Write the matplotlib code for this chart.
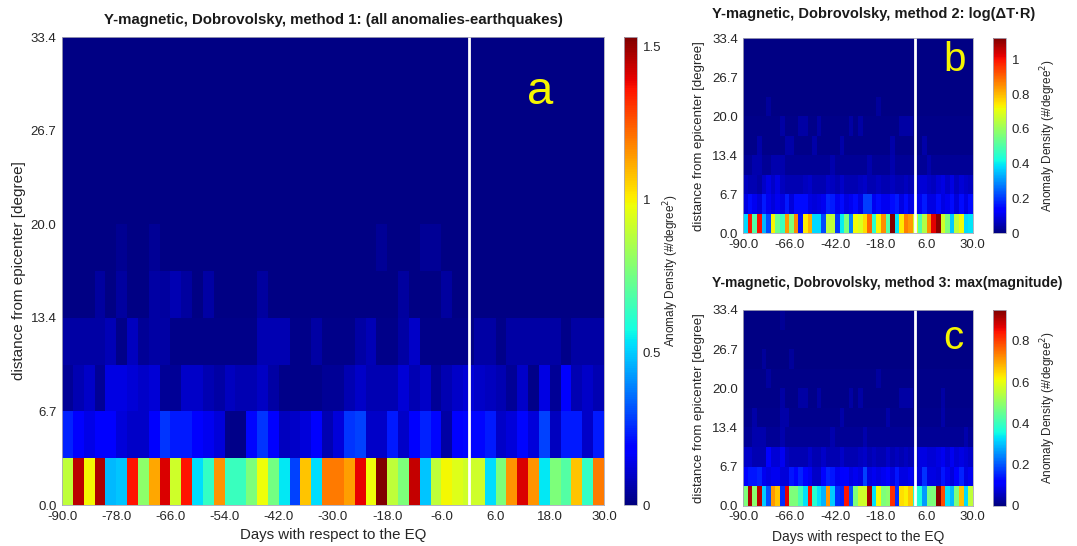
import numpy as np
import matplotlib
matplotlib.use("Agg")
import matplotlib.pyplot as plt

plt.rcParams['font.family'] = ['Liberation Sans', 'DejaVu Sans']

# ---------------- data ----------------
day_edges = np.linspace(-90, 30, 51)          # 50 bins of 2.4 days
dist_edges = np.linspace(0, 33.4, 11)         # 10 bins of 3.34 degree

x_ticks_a = [-90, -78, -66, -54, -42, -30, -18, -6, 6, 18, 30]
x_ticks_bc = [-90, -66, -42, -18, 6, 30]
y_ticks = [0, 6.68, 13.36, 20.04, 26.72, 33.4]
y_tick_labels = ["0.0", "6.7", "13.4", "20.0", "26.7", "33.4"]

# Panel a (method 1)
a_r0 = [0.89,1.45,0.99,1.47,0.47,0.49,1.36,0.80,1.12,1.41,0.92,1.36,0.52,0.63,1.15,0.64,0.64,0.77,0.98,0.75,0.54,0.29,1.07,0.52,1.19,
        1.19,1.13,1.39,0.98,1.53,0.89,0.77,1.44,0.49,0.89,0.99,0.95,0.92,0.92,0.52,0.77,1.15,1.41,1.15,0.54,0.77,0.69,1.07,0.63,1.19]
a_r1 = [0.245,0.18,0.14,0.18,0.18,0.12,0.10,0.10,0.18,0.27,0.23,0.23,0.18,0.15,0.12,0.015,0.015,0.20,0.27,0.18,0.085,0.10,0.12,0.18,0.07,
        0.12,0.27,0.29,0.10,0.10,0.23,0.10,0.18,0.245,0.20,0.05,0.18,0.20,0.20,0.23,0.10,0.12,0.20,0.12,0.29,0.085,0.23,0.23,0.10,0.23]
a_r2 = [0.034,0.067,0.10,0.034,0.135,0.135,0.118,0.10,0.118,0.034,0.034,0.10,0.10,0.067,0.05,0.084,0.067,0.067,0.092,0.05,0.017,0.017,0.017,0.017,0.03,
        0.034,0.067,0.10,0.067,0.067,0.067,0.118,0.067,0.10,0.034,0.067,0.10,0.118,0.10,0.084,0.067,0.034,0.10,0.017,0.135,0.034,0.17,0.067,0.10,0.067]
a_r3 = [0.05,0.05,0.05,0.05,0.077,0.017,0.084,0.034,0.05,0.05,0.017,0.017,0.017,0.017,0.017,0.017,0.017,0.017,0.067,0.067,0.067,0.017,0.017,0.05,0.017,
        0.017,0.017,0.05,0.077,0.017,0.017,0.05,0.10,0.017,0.017,0.017,0.017,0.017,0.05,0.05,0.017,0.05,0.05,0.05,0.05,0.05,0.017,0.05,0.05,0.05]
a_r4 = [0.01,0.01,0.01,0.043,0.01,0.043,0.01,0.01,0.05,0.046,0.067,0.046,0.01,0.05,0.01,0.01,0.01,0.01,0.046,0.01,0.01,0.01,0.01,0.01,0.01,
        0.01,0.01,0.01,0.01,0.01,0.01,0.043,0.01,0.01,0.01,0.043,0.01,0.01,0.01,0.01,0.01,0.01,0.01,0.01,0.01,0.01,0.01,0.01,0.01,0.01]
a_r5 = [0.008,0.008,0.008,0.008,0.008,0.027,0.008,0.008,0.034,0.008,0.008,0.008,0.008,0.008,0.008,0.008,0.008,0.008,0.008,0.008,0.008,0.008,0.008,0.008,0.008,
        0.008,0.008,0.008,0.008,0.034,0.008,0.008,0.008,0.034,0.034,0.008,0.008,0.008,0.008,0.008,0.008,0.008,0.008,0.008,0.008,0.008,0.008,0.008,0.008,0.008]
a_r6 = [0.008] * 50
a_r7 = [0.008] * 50
a_r8 = [0.008] * 50
a_r9 = [0.008] * 50

# Panel b (method 2)
b_r0 = [0.38,0.99,0.50,1.00,0.34,0.22,0.73,0.54,0.47,0.84,0.56,0.86,0.16,0.74,0.81,0.38,0.38,0.22,0.65,0.65,0.20,0.40,0.56,0.28,0.72,
        0.69,0.76,0.90,0.45,0.73,0.85,0.50,1.12,0.39,0.74,0.87,0.84,0.67,0.50,0.63,0.85,1.02,1.11,0.67,0.56,0.36,0.65,0.72,0.38,0.39]
b_r1 = [0.10,0.15,0.11,0.09,0.17,0.11,0.09,0.11,0.10,0.17,0.09,0.15,0.15,0.15,0.10,0.09,0.10,0.11,0.18,0.17,0.11,0.15,0.10,0.11,0.15,
        0.10,0.21,0.21,0.11,0.15,0.11,0.11,0.15,0.17,0.10,0.15,0.10,0.11,0.11,0.17,0.10,0.10,0.15,0.10,0.11,0.15,0.09,0.15,0.10,0.15]
b_r2 = [0.062,0.049,0.049,0.037,0.074,0.099,0.074,0.099,0.062,0.049,0.049,0.049,0.049,0.062,0.074,0.049,0.049,0.049,0.074,0.062,0.049,0.074,0.049,0.049,0.049,
        0.062,0.074,0.049,0.049,0.062,0.049,0.049,0.062,0.049,0.049,0.062,0.049,0.062,0.086,0.086,0.074,0.062,0.086,0.099,0.074,0.099,0.062,0.086,0.074,0.062]
b_r3 = [0.022,0.022,0.045,0.045,0.022,0.022,0.045,0.045,0.045,0.022,
        0.022,0.022,0.022,0.022,0.022,0.022,0.022,0.022,0.022,0.045,
        0.022,0.022,0.022,0.022,0.022,0.022,0.022,0.045,0.022,0.022,
        0.022,0.022,0.045,0.022,0.022,0.022,0.022,0.022,0.022,0.022,
        0.045,0.022,0.022,0.022,0.022,0.022,0.022,0.022,0.022,0.022]
b_r4 = [0.012,0.012,0.012,0.04,0.012,0.012,0.012,0.012,0.012,0.04,
        0.04,0.012,0.012,0.012,0.012,0.04,0.012,0.012,0.012,0.012,
        0.012,0.04,0.012,0.012,0.012,0.012,0.012,0.012,0.012,0.012,
        0.012,0.012,0.04,0.012,0.012,0.012,0.012,0.012,0.012,0.04,
        0.012,0.012,0.012,0.012,0.012,0.012,0.012,0.012,0.012,0.012]
b_r5 = [0.01,0.01,0.01,0.01,0.01,0.01,0.01,0.01,0.035,0.01,
        0.01,0.01,0.035,0.035,0.01,0.01,0.035,0.01,0.01,0.01,
        0.01,0.01,0.01,0.035,0.01,0.035,0.01,0.01,0.01,0.01,
        0.01,0.01,0.01,0.01,0.035,0.035,0.035,0.01,0.01,0.01,
        0.01,0.01,0.01,0.01,0.01,0.01,0.01,0.01,0.01,0.01]
b_r6 = [0.008,0.008,0.008,0.008,0.008,0.03,0.008,0.008,0.008,0.008,
        0.008,0.008,0.008,0.008,0.008,0.008,0.008,0.008,0.008,0.008,
        0.008,0.008,0.008,0.008,0.008,0.008,0.008,0.008,0.008,0.03,
        0.008,0.008,0.008,0.008,0.008,0.008,0.008,0.008,0.008,0.008,
        0.008,0.008,0.008,0.008,0.008,0.008,0.008,0.008,0.008,0.008]
b_r7 = [0.008] * 50
b_r8 = [0.008] * 50
b_r9 = [0.008] * 50

# Panel c (method 3)
c_r0 = [0.475,0.91,0.49,0.90,0.31,0.19,0.71,0.665,0.16,0.865,0.475,0.475,0.41,0.33,0.845,0.38,0.33,0.285,0.71,0.31,0.16,0.15,0.845,0.19,0.475,
        0.57,0.57,0.92,0.33,0.61,0.475,0.49,0.82,0.16,0.64,0.62,0.665,0.38,0.36,0.26,0.47,0.475,0.94,0.79,0.33,0.29,0.475,0.67,0.32,0.55]
c_r1 = [0.12,0.14,0.14,0.15,0.095,0.085,0.095,0.095,0.076,0.076,0.14,0.12,0.15,0.12,0.095,0.063,0.063,0.12,0.15,0.14,0.095,0.105,0.12,0.085,0.095,
        0.085,0.18,0.085,0.095,0.085,0.095,0.105,0.085,0.14,0.085,0.085,0.095,0.085,0.085,0.165,0.085,0.085,0.076,0.14,0.095,0.076,0.105,0.15,0.085,0.095]
c_r2 = [0.063,0.063,0.042,0.042,0.042,0.105,0.073,0.073,0.095,0.052,0.042,0.042,0.042,0.042,0.063,0.042,0.042,0.063,0.042,0.042,0.042,0.063,0.042,0.042,0.042,
        0.052,0.063,0.042,0.052,0.042,0.042,0.063,0.042,0.052,0.042,0.052,0.042,0.063,0.084,0.084,0.073,0.073,0.084,0.095,0.073,0.095,0.073,0.084,0.073,0.063]
c_r3 = [0.02,0.02,0.04,0.04,0.04,0.02,0.02,0.02,0.04,0.02,
        0.02,0.02,0.02,0.02,0.02,0.02,0.02,0.02,0.02,0.04,
        0.02,0.02,0.02,0.02,0.02,0.02,0.04,0.02,0.02,0.02,
        0.02,0.02,0.02,0.02,0.02,0.02,0.02,0.02,0.02,0.02,
        0.02,0.02,0.02,0.02,0.02,0.02,0.02,0.02,0.04,0.02]
c_r4 = [0.012,0.012,0.035,0.012,0.012,0.012,0.012,0.012,0.035,0.035,
        0.012,0.012,0.012,0.012,0.012,0.012,0.012,0.012,0.012,0.012,
        0.012,0.035,0.012,0.012,0.012,0.012,0.012,0.012,0.012,0.012,
        0.012,0.035,0.012,0.012,0.012,0.012,0.012,0.012,0.012,0.012,
        0.012,0.012,0.012,0.035,0.012,0.012,0.012,0.012,0.012,0.012]
c_r5 = [0.01,0.01,0.01,0.01,0.01,0.01,0.01,0.01,0.03,0.01,
        0.01,0.01,0.03,0.03,0.01,0.01,0.03,0.01,0.01,0.01,
        0.01,0.01,0.01,0.03,0.01,0.03,0.01,0.01,0.01,0.01,
        0.01,0.01,0.01,0.01,0.03,0.03,0.03,0.01,0.01,0.01,
        0.01,0.01,0.01,0.03,0.01,0.01,0.01,0.01,0.01,0.01]
c_r6 = [0.008,0.008,0.008,0.008,0.008,0.028,0.008,0.008,0.008,0.008,
        0.008,0.008,0.008,0.008,0.008,0.008,0.008,0.008,0.008,0.008,
        0.008,0.008,0.008,0.008,0.008,0.008,0.008,0.008,0.008,0.028,
        0.008,0.008,0.008,0.008,0.008,0.008,0.008,0.008,0.008,0.008,
        0.008,0.008,0.008,0.008,0.008,0.008,0.008,0.008,0.008,0.008]
c_r7 = [0.007,0.007,0.007,0.007,0.025,0.007,0.007,0.007,0.007,0.007,
        0.025,0.007,0.007,0.007,0.007,0.007,0.007,0.007,0.007,0.007,
        0.007,0.007,0.007,0.007,0.007,0.007,0.007,0.007,0.007,0.007,
        0.007,0.007,0.007,0.007,0.007,0.007,0.007,0.007,0.007,0.007,
        0.007,0.007,0.007,0.007,0.007,0.007,0.007,0.007,0.007,0.007]
c_r8 = [0.007] * 50
c_r9 = [0.007,0.007,0.007,0.007,0.007,0.007,0.007,0.007,0.022,0.007,
        0.007,0.007,0.007,0.007,0.007,0.007,0.007,0.007,0.007,0.007,
        0.007,0.007,0.007,0.007,0.007,0.007,0.007,0.007,0.007,0.007,
        0.007,0.007,0.007,0.007,0.007,0.007,0.007,0.007,0.007,0.007,
        0.007,0.007,0.007,0.007,0.007,0.007,0.007,0.007,0.007,0.007]

vmax_a, vmax_b, vmax_c = 1.53, 1.12, 0.95
cb_ticks_a = [0, 0.5, 1, 1.5]
cb_labels_a = ["0", "0.5", "1", "1.5"]
cb_ticks_b = [0, 0.2, 0.4, 0.6, 0.8, 1.0]
cb_labels_b = ["0", "0.2", "0.4", "0.6", "0.8", "1"]
cb_ticks_c = [0, 0.2, 0.4, 0.6, 0.8]
cb_labels_c = ["0", "0.2", "0.4", "0.6", "0.8"]

title_a = "Y-magnetic, Dobrovolsky, method 1: (all anomalies-earthquakes)"
title_b = "Y-magnetic, Dobrovolsky, method 2: log(\u0394T\u00b7R)"
title_c = "Y-magnetic, Dobrovolsky, method 3: max(magnitude)"
xlabel = "Days with respect to the EQ"
ylabel = "distance from epicenter [degree]"
cblabel = "Anomaly Density (#/degree$^2$)"

Za = np.array([a_r0, a_r1, a_r2, a_r3, a_r4, a_r5, a_r6, a_r7, a_r8, a_r9])
Zb = np.array([b_r0, b_r1, b_r2, b_r3, b_r4, b_r5, b_r6, b_r7, b_r8, b_r9])
Zc = np.array([c_r0, c_r1, c_r2, c_r3, c_r4, c_r5, c_r6, c_r7, c_r8, c_r9])

# ---------------- layout ----------------
W, H = 1077, 546
fig = plt.figure(figsize=(W / 100, H / 100), dpi=100)
fig.patch.set_facecolor('white')

def box(x0, y0, x1, y1):
    return [x0 / W, 1 - y1 / H, (x1 - x0) / W, (y1 - y0) / H]

axA = fig.add_axes(box(62, 37, 604, 505))
caxA = fig.add_axes(box(624, 37, 637, 505))
axB = fig.add_axes(box(743.3, 38.3, 972.7, 233.3))
caxB = fig.add_axes(box(993, 38.3, 1006, 233.3))
axC = fig.add_axes(box(743.3, 310, 972.7, 505.7))
caxC = fig.add_axes(box(993, 310, 1006, 505.7))

edge_col = '#a8a8b8'
tick_fs = 9.5

def draw(ax, cax, Z, vmax, xt, cbt, cbl, letter, lx, ly, lfs, cbpad):
    m = ax.pcolormesh(day_edges, dist_edges, Z, cmap='jet', vmin=0, vmax=vmax,
                      shading='flat', antialiased=False)
    ax.axvline(0, color='white', lw=2)
    ax.set_xlim(-90, 30)
    ax.set_ylim(0, 33.4)
    ax.set_xticks(xt)
    ax.set_xticklabels([f"{v:.1f}" for v in xt])
    ax.set_yticks(y_ticks)
    ax.set_yticklabels(y_tick_labels)
    ax.tick_params(length=0, pad=4, labelsize=tick_fs, colors='#262626')
    for s in ax.spines.values():
        s.set_color(edge_col)
        s.set_linewidth(0.6)
    ax.text(lx, ly, letter, color='#f5f500', fontsize=lfs, ha='center', va='center')
    cb = fig.colorbar(m, cax=cax, ticks=cbt)
    cb.ax.set_yticklabels(cbl)
    cb.ax.tick_params(length=0, pad=4, labelsize=tick_fs, colors='#262626')
    cb.outline.set_edgecolor(edge_col)
    cb.outline.set_linewidth(0.6)
    cb.set_label(cblabel, fontsize=8.5, color='#262626', labelpad=cbpad)
    return m

draw(axA, caxA, Za, vmax_a, x_ticks_a, cb_ticks_a, cb_labels_a, 'a', 15.8, 29.5, 34, 0)
draw(axB, caxB, Zb, vmax_b, x_ticks_bc, cb_ticks_b, cb_labels_b, 'b', 20.7, 29.6, 29, 6)
draw(axC, caxC, Zc, vmax_c, x_ticks_bc, cb_ticks_c, cb_labels_c, 'c', 19.8, 28.7, 29, 6)

axA.set_xlabel(xlabel, fontsize=10.8, color='#262626', labelpad=4)
axA.set_ylabel(ylabel, fontsize=11, color='#262626', labelpad=3)
axC.set_xlabel(xlabel, fontsize=10, color='#262626', labelpad=5)
axB.set_ylabel(ylabel, fontsize=9.5, color='#262626', labelpad=5)
axC.set_ylabel(ylabel, fontsize=9.5, color='#262626', labelpad=5)

fig.text(333 / W, 1 - 20 / H, title_a, fontsize=10.8, fontweight='bold',
         ha='center', va='center', color='#1a1a1a')
fig.text(712 / W, 1 - 14 / H, title_b, fontsize=10.5, fontweight='bold',
         ha='left', va='center', color='#1a1a1a')
fig.text(712 / W, 1 - 283 / H, title_c, fontsize=10, fontweight='bold',
         ha='left', va='center', color='#1a1a1a')

fig.savefig('out.png', dpi=100, facecolor='white')
